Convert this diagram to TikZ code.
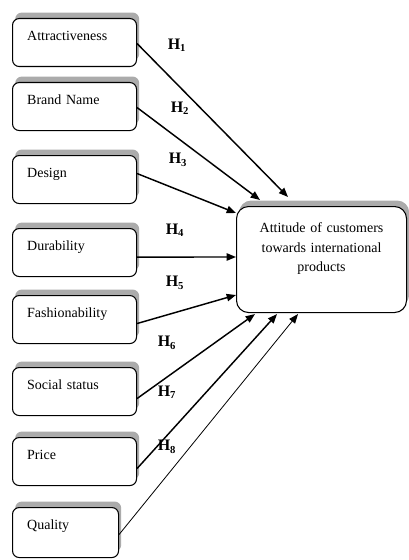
\documentclass[tikz,border=0pt]{standalone}
\usepackage{fontspec}
\setmainfont{Liberation Serif}
\usepackage{tikz}
\usetikzlibrary{positioning,arrows.meta,shadows,calc}
\usepackage{xcolor}
\definecolor{shgray}{HTML}{ABABAB}

\begin{document}
\begin{tikzpicture}[x=0.75pt, y=-0.75pt,
  factor/.style={draw, rounded corners=5pt, fill=white, line width=0.8pt,
    drop shadow={shadow xshift=2pt, shadow yshift=4.5pt, fill=shgray, opacity=1},
    anchor=north west, align=left, text width=71pt, inner xsep=11pt, inner ysep=5pt,
    text height=11.5pt, text depth=14.5pt, font=\fontsize{10.5}{12}\selectfont},
  outcome/.style={draw, rounded corners=9pt, fill=white, line width=0.8pt,
    drop shadow={shadow xshift=2pt, shadow yshift=4.5pt, fill=shgray, opacity=1},
    anchor=north west, align=center, text width=115.5pt, inner xsep=6pt, inner ysep=8pt,
    text height=11.5pt, text depth=52pt, font=\fontsize{10.5}{14.6}\selectfont},
  hyp/.style={font=\bfseries\fontsize{12}{14}\selectfont, inner sep=0pt},
  link/.style={line width=1.1pt, -{Triangle[length=7pt,width=5.5pt]}}
]
  \useasboundingbox (0,0) rectangle (409,560);
  % Factors on the left
  \foreach \n/\t/\y in {attr/Attractiveness/18, brand/Brand Name/82, design/Design/155,
      dur/Durability/228, fash/Fashionability/295, soc/Social status/367, price/Price/437} {
    \node[factor] (\n) at (12,\y) {\t};
  }
  \node[factor, text width=57.5pt, text depth=16pt] (qual) at (12,507) {Quality};
  % Dependent variable
  \node[outcome] (tgt) at (236,206) {Attitude of customers\\towards international\\products};
  % Hypothesised paths
  \foreach \n/\sy/\dx/\dy in {attr/1/52/-9, brand/1/24/-6, design/-6/0/7, dur/4.5/0/51, fash/4/0/89} {
    \draw[link] ($(\n.east)+(0,\sy)$) -- ($(tgt.north west)+(\dx,\dy)$);
  }
  \foreach \n/\sy/\dx in {soc/7/19, price/7/41} {
    \draw[link] ($(\n.east)+(0,\sy)$) -- ($(tgt.south west)+(\dx,1)$);
  }
  \draw[link, line width=0.6pt] ($(qual.east)+(0,2)$) -- ($(tgt.south west)+(62,1)$);
  % Path labels
  \foreach \i/\x/\y in {1/177/45, 2/180/108, 3/178/160, 4/175/230,
      5/175/283, 6/167/343, 7/167/392, 8/167/447} {
    \node[hyp] (h\i) at (\x,\y) {H\textsubscript{\i}};
  }
\end{tikzpicture}
\end{document}
